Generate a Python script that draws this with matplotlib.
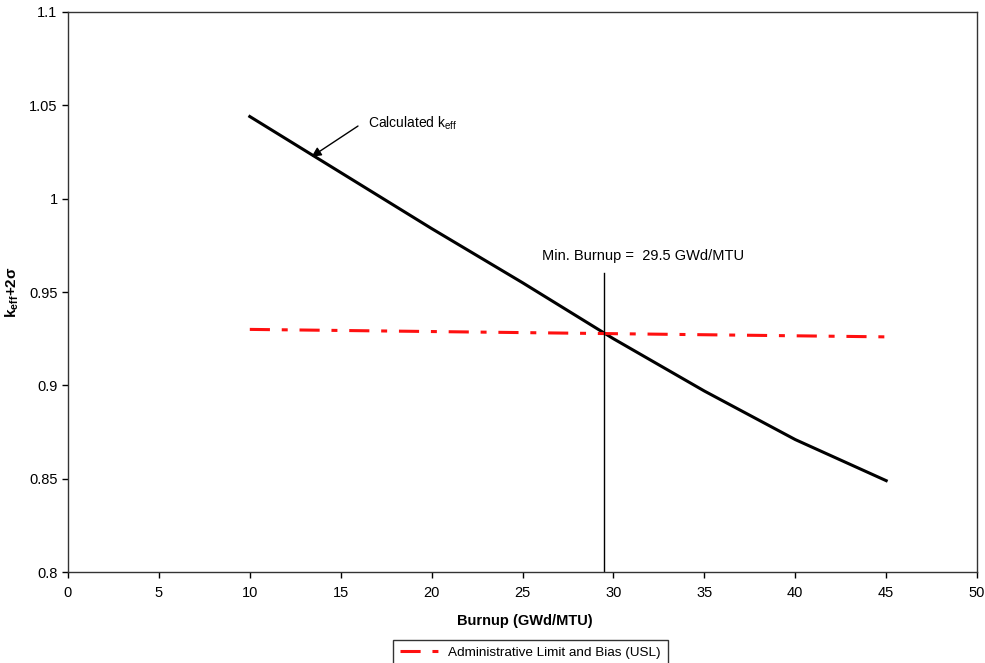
import numpy as np
import matplotlib.pyplot as plt

plt.rcParams['font.family'] = ['Liberation Sans', 'DejaVu Sans']
plt.rcParams['mathtext.default'] = 'regular'
plt.rcParams['lines.scale_dashes'] = False

# calculated keff+2sigma vs burnup
burnup = [10, 15, 20, 25, 30, 35, 40, 45]
keff = [1.044, 1.014, 0.984, 0.955, 0.925, 0.897, 0.871, 0.849]

# administrative limit and bias (USL)
usl_x = [10, 45]
usl_y = [0.930, 0.926]

min_burnup = 29.5

fig = plt.figure(figsize=(9.85, 6.63), dpi=100)
ax = fig.add_axes([0.069, 0.137, 0.923, 0.845])

ax.plot(burnup, keff, color='black', lw=2.2)
usl, = ax.plot(usl_x, usl_y, color='#ff1010', lw=2.2,
               ls=(0, (14.5, 8.5, 4.3, 8.5)),
               label='Administrative Limit and Bias (USL)')
ax.plot([min_burnup, min_burnup], [0.8, 0.96], color='black', lw=1.0)

ax.text(26.05, 0.9693, 'Min. Burnup =  29.5 GWd/MTU', fontsize=10.5,
        va='center', ha='left')
ax.text(16.5, 1.0405, 'Calculated k$_{eff}$', fontsize=10,
        va='center', ha='left')
ax.annotate('', xy=(13.4, 1.0225), xytext=(15.95, 1.0389),
            arrowprops=dict(arrowstyle='-|>', color='black', lw=1.0,
                            mutation_scale=14, shrinkA=0, shrinkB=0))

ax.set_xlim(0, 50)
ax.set_ylim(0.8, 1.1)
ax.set_xticks(np.arange(0, 51, 5))
ax.set_yticks([0.8, 0.85, 0.9, 0.95, 1.0, 1.05, 1.1])
ax.set_yticklabels(['0.8', '0.85', '0.9', '0.95', '1', '1.05', '1.1'])
ax.tick_params(direction='out', length=4, labelsize=10.5, width=1)
ax.tick_params(axis='x', pad=6)
for s in ax.spines.values():
    s.set_linewidth(1.0)
    s.set_color('#333333')

ax.set_xlabel('Burnup (GWd/MTU)', fontsize=10.5, fontweight='bold')
ax.xaxis.set_label_coords(0.503, -0.075)
ax.set_ylabel('k$_{eff}$+2σ', fontsize=11, fontweight='bold')
ax.yaxis.set_label_coords(-0.0515, 0.5)

fig.legend(handles=[usl], loc='upper left', bbox_to_anchor=(0.399, 0.0347),
           fontsize=9.7, frameon=True, fancybox=False, edgecolor='black',
           handlelength=3.0, handletextpad=0.6, borderpad=0.5,
           borderaxespad=0)

fig.savefig('out.png', dpi=100)
